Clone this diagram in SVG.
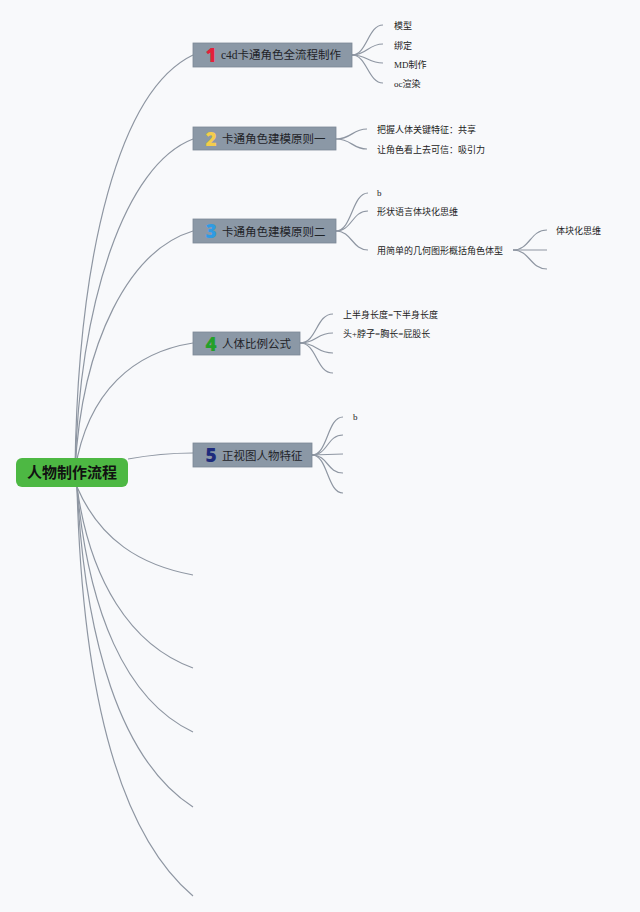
<svg xmlns="http://www.w3.org/2000/svg" width="640" height="912" viewBox="0 0 640 912">
<style>
.bg{fill:#F8F9FB}
.ln{fill:none;stroke:#8E96A2;stroke-width:1.2}
.box{fill:#8B98A6;stroke:#7C8896;stroke-width:0.8}
.t{font-family:"Liberation Serif","Noto Sans CJK SC",serif;font-size:11.5px;fill:#1F2328}
.n{font-family:"Noto Sans","Liberation Sans",sans-serif;font-size:19px;font-weight:900}
.c{font-family:"Liberation Serif","Noto Sans CJK SC",serif;font-size:9px;fill:#222}
.root{font-family:"Noto Sans CJK SC",sans-serif;font-size:15px;font-weight:bold;fill:#111}
</style>
<rect class="bg" width="640" height="912"/>
<g id="connectors">
<path class="ln" d="M75,470 C78,250 120,90 193,55"/>
<path class="ln" d="M75,470 C80,300 125,165 193,139"/>
<path class="ln" d="M75,470 C82,340 130,250 193,231"/>
<path class="ln" d="M75,470 C88,390 135,352 193,343"/>
<path class="ln" d="M128,459 C150,455 170,453 193,453"/>
<path class="ln" d="M77,487 C100,540 140,565 193,575"/>
<path class="ln" d="M77,487 C90,580 130,645 193,668"/>
<path class="ln" d="M77,487 C88,610 125,700 193,732"/>
<path class="ln" d="M77,487 C85,640 120,760 193,807"/>
<path class="ln" d="M77,487 C82,680 115,830 193,896"/>
<path class="ln" d="M352,55 C367,55 368,25 383,25"/>
<path class="ln" d="M352,55 C367,55 368,44 383,44"/>
<path class="ln" d="M352,55 C367,55 368,63 383,63"/>
<path class="ln" d="M352,55 C367,55 368,83 383,83"/>
<path class="ln" d="M336,139 C352,139 352,129 367,129"/>
<path class="ln" d="M336,139 C352,139 352,149 367,149"/>
<path class="ln" d="M336,231 C352,231 352,193 368,193"/>
<path class="ln" d="M336,231 C352,231 352,211 368,211"/>
<path class="ln" d="M336,231 C352,231 352,250 368,250"/>
<path class="ln" d="M513,250 C530,250 530,230 547,230"/>
<path class="ln" d="M513,250 L547,250"/>
<path class="ln" d="M513,250 C530,250 530,269 547,269"/>
<path class="ln" d="M300,343 C317,343 316,314 333,314"/>
<path class="ln" d="M300,343 C317,343 316,333 333,333"/>
<path class="ln" d="M300,343 C317,343 316,353 333,353"/>
<path class="ln" d="M300,343 C317,343 316,373 333,373"/>
<path class="ln" d="M312,455 C328,455 327,417 343,417"/>
<path class="ln" d="M312,455 C328,455 327,435 343,435"/>
<path class="ln" d="M312,455 L343,454"/>
<path class="ln" d="M312,455 C328,455 327,473 343,473"/>
<path class="ln" d="M312,455 C328,455 327,493 343,493"/>
</g>
<g id="root">
<rect x="16" y="458" width="112" height="29" rx="6" fill="#4DB843"/>
<text class="root" x="72" y="478" text-anchor="middle">人物制作流程</text>
</g>
<g id="node1">
<rect class="box" x="193" y="43" width="159" height="24"/>
<text class="n" x="211" y="62" text-anchor="middle" fill="#E3213A">1</text>
<text class="t" x="221" y="59">c4d卡通角色全流程制作</text>
</g>
<g id="node2">
<rect class="box" x="193" y="127" width="143" height="23"/>
<text class="n" x="211" y="145.5" text-anchor="middle" fill="#F3CD4B">2</text>
<text class="t" x="222" y="143">卡通角色建模原则一</text>
</g>
<g id="node3">
<rect class="box" x="193" y="219" width="143" height="24"/>
<text class="n" x="211" y="238" text-anchor="middle" fill="#2F9BE3">3</text>
<text class="t" x="222" y="235.5">卡通角色建模原则二</text>
</g>
<g id="node4">
<rect class="box" x="193" y="332" width="107" height="23"/>
<text class="n" x="211" y="350.5" text-anchor="middle" fill="#24A02A">4</text>
<text class="t" x="222" y="348">人体比例公式</text>
</g>
<g id="node5">
<rect class="box" x="193" y="443" width="119" height="24"/>
<text class="n" x="211" y="462" text-anchor="middle" fill="#1E2B7C">5</text>
<text class="t" x="222" y="459.5">正视图人物特征</text>
</g>
<g id="n1c1"><text class="c" x="394" y="29">模型</text></g>
<g id="n1c2"><text class="c" x="394" y="49">绑定</text></g>
<g id="n1c3"><text class="c" x="394" y="68">MD制作</text></g>
<g id="n1c4"><text class="c" x="394" y="87">oc渲染</text></g>
<g id="n2c1"><text class="c" x="377" y="133">把握人体关键特征：共享</text></g>
<g id="n2c2"><text class="c" x="377" y="152.5">让角色看上去可信：吸引力</text></g>
<g id="n3c1"><text class="c" x="377" y="196">b</text></g>
<g id="n3c2"><text class="c" x="377" y="215">形状语言体块化思维</text></g>
<g id="n3c3"><text class="c" x="377" y="253.5">用简单的几何图形概括角色体型</text></g>
<g id="n3c3a"><text class="c" x="556" y="234">体块化思维</text></g>
<g id="n4c1"><text class="c" x="343" y="318">上半身长度=下半身长度</text></g>
<g id="n4c2"><text class="c" x="343" y="337">头+脖子=胸长=屁股长</text></g>
<g id="n5c1"><text class="c" x="353" y="420">b</text></g>
</svg>
